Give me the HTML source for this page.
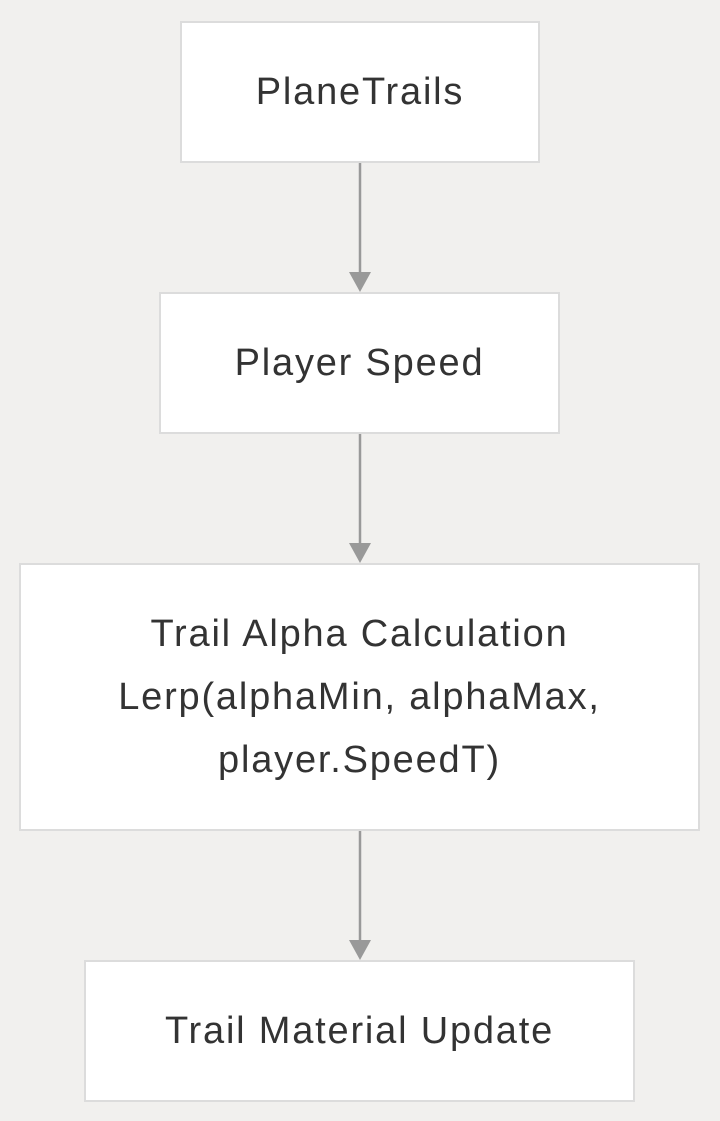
<!DOCTYPE html>
<html><head><style>
html,body{margin:0;padding:0;background:#f1f0ee;}
body{width:720px;height:1121px;position:relative;overflow:hidden;font-family:"Liberation Sans",sans-serif;color:#333;}
.b{position:absolute;box-sizing:border-box;background:#fff;border:2px solid #dcdcdc;display:flex;align-items:center;justify-content:center;text-align:center;font-size:38px;line-height:63px;letter-spacing:1.8px;}
svg{position:absolute;left:0;top:0;}
</style></head><body>
<svg width="720" height="1121">
<g stroke="#999" stroke-width="2.5"><line x1="360" y1="163" x2="360" y2="276"/><line x1="360" y1="434" x2="360" y2="547"/><line x1="360" y1="831" x2="360" y2="944"/></g>
<g fill="#999"><polygon points="349,272 371,272 360,292"/><polygon points="349,543 371,543 360,563"/><polygon points="349,940 371,940 360,960"/></g>
</svg>
<div class="b" style="left:180px;top:21px;width:360px;height:142px;">PlaneTrails</div>
<div class="b" style="left:159px;top:292px;width:401px;height:142px;">Player Speed</div>
<div class="b" style="left:19px;top:563px;width:681px;height:268px;">Trail Alpha Calculation<br>Lerp(alphaMin, alphaMax,<br>player.SpeedT)</div>
<div class="b" style="left:84px;top:960px;width:551px;height:142px;">Trail Material Update</div>
</body></html>
